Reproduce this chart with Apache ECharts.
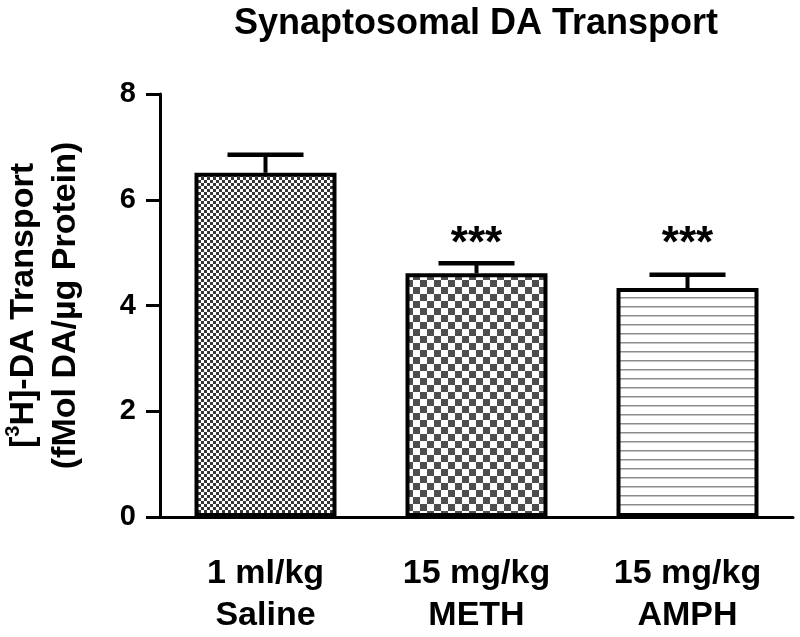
<!DOCTYPE html>
<html>
<head>
<meta charset="utf-8">
<script src="https://cdn.jsdelivr.net/npm/echarts@6/dist/echarts.min.js"></script>
<style>
html,body{margin:0;padding:0;background:#fff;}
#chart{width:800px;height:637px;}
</style>
</head>
<body>
<div id="chart"></div>
<script>
// ---- data ----
const categories = ['1 ml/kg\nSaline', '15 mg/kg\nMETH', '15 mg/kg\nAMPH'];
const means = [6.51, 4.61, 4.33];
const errTops = [6.85, 4.80, 4.58];
const sigLabels = ['', '***', '***'];
const sigY = [0, 5.15, 5.15];
const yTicks = [0, 2, 4, 6, 8];

// ---- patterns ----
function checker(cell, dark) {
  const c = document.createElement('canvas');
  c.width = cell * 2; c.height = cell * 2;
  const g = c.getContext('2d');
  g.fillStyle = '#ffffff'; g.fillRect(0, 0, c.width, c.height);
  g.fillStyle = dark;
  g.fillRect(0, 0, cell, cell);
  g.fillRect(cell, cell, cell, cell);
  return c;
}
function hlines(period, col) {
  const c = document.createElement('canvas');
  c.width = 8; c.height = period;
  const g = c.getContext('2d');
  g.fillStyle = '#ffffff'; g.fillRect(0, 0, c.width, c.height);
  g.fillStyle = col; g.fillRect(0, 0, c.width, 1.5);
  return c;
}
const patterns = [
  { image: checker(3, '#383838'), repeat: 'repeat' },
  { image: checker(7, '#4e4e4e'), repeat: 'repeat' },
  { image: hlines(9, '#8c8c8c'), repeat: 'repeat' }
];

const FONT = '"Liberation Sans", Arial, Helvetica, sans-serif';
const chart = echarts.init(document.getElementById('chart'));

const option = {
  backgroundColor: '#ffffff',
  animation: false,
  title: {
    text: 'Synaptosomal DA Transport',
    left: 471, top: 1, textAlign: 'center',
    textStyle: { fontFamily: FONT, fontWeight: 'bold', fontSize: 36, color: '#000' }
  },
  grid: { left: 160, right: 7, top: 94, bottom: 120, containLabel: false, outerBoundsMode: 'none' },
  xAxis: {
    type: 'category',
    data: categories,
    axisLine: { lineStyle: { color: '#000', width: 3 } },
    axisTick: { alignWithLabel: true, length: 15, lineStyle: { color: '#000', width: 3 } },
    axisLabel: {
      margin: 36, color: '#000', fontFamily: FONT, fontWeight: 'bold',
      fontSize: 34, lineHeight: 42, interval: 0
    }
  },
  yAxis: {
    type: 'value',
    min: 0, max: 8, interval: 2,
    name: '[{sup|3}H]-DA Transport\n(fMol DA/µg Protein)',
    nameLocation: 'middle',
    nameGap: 73,
    nameRotate: 90,
    nameTextStyle: {
      fontFamily: FONT, fontWeight: 'bold', fontSize: 34, color: '#000', lineHeight: 42,
      rich: { sup: { fontFamily: FONT, fontWeight: 'bold', fontSize: 20, verticalAlign: 'top', lineHeight: 42, padding: [0, 0, 13, 0] } }
    },
    splitLine: { show: false },
    axisLine: { show: true, lineStyle: { color: '#000', width: 3 } },
    axisTick: { show: true, length: 14, lineStyle: { color: '#000', width: 3 } },
    axisLabel: {
      margin: 24, color: '#000', fontFamily: FONT, fontWeight: 'bold', fontSize: 29,
      formatter: function (v) { return yTicks.indexOf(v) >= 0 ? String(v) : ''; }
    }
  },
  series: [
    {
      type: 'bar',
      barWidth: 142,
      data: means.map(function (v, i) {
        return { value: v, itemStyle: { color: patterns[i], borderColor: '#000', borderWidth: 4 } };
      }),
      z: 2
    },
    {
      type: 'custom',
      z: 3,
      data: errTops.map(function (t, i) { return [i, means[i], t]; }),
      renderItem: function (params, api) {
        const x = api.coord([api.value(0), 0])[0];
        const yb = api.coord([api.value(0), api.value(1)])[1];
        const yt = api.coord([api.value(0), api.value(2)])[1];
        const half = 38;
        return {
          type: 'group',
          children: [
            { type: 'line', shape: { x1: x, y1: yb, x2: x, y2: yt }, style: { stroke: '#000', lineWidth: 4 } },
            { type: 'line', shape: { x1: x - half, y1: yt, x2: x + half, y2: yt }, style: { stroke: '#000', lineWidth: 4.5 } }
          ]
        };
      }
    },
    {
      type: 'custom',
      z: 4,
      data: sigY.map(function (y, i) { return [i, y, sigLabels[i]]; }),
      renderItem: function (params, api) {
        const i = params.dataIndex;
        if (!sigLabels[i]) return null;
        const p = api.coord([api.value(0), api.value(1)]);
        return {
          type: 'text',
          style: {
            x: p[0], y: p[1], text: sigLabels[i],
            font: 'bold 44px ' + FONT, fill: '#000',
            textAlign: 'center', textVerticalAlign: 'middle'
          }
        };
      }
    }
  ]
};
chart.setOption(option);
</script>
</body>
</html>
